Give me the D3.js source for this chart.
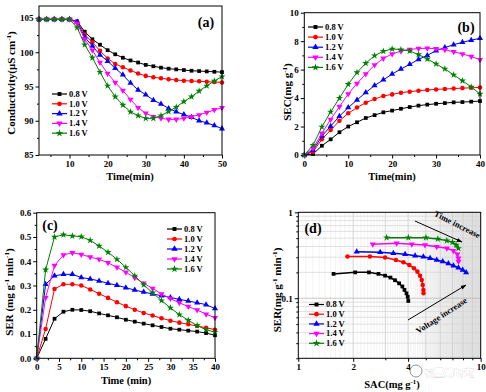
<!DOCTYPE html>
<html><head><meta charset="utf-8">
<script src="https://cdn.jsdelivr.net/npm/d3@7"></script>
<style>
body{margin:0;background:#fff}
svg{display:block}
text{font-family:"Liberation Serif","Times New Roman",serif;font-weight:bold;}
</style>
</head><body>
<svg id="chart" width="486" height="392"></svg>
<script>
// ---------- data ----------
const seriesNames = ["0.8 V","1.0 V","1.2 V","1.4 V","1.6 V"];
const seriesColors = ["#000000","#ff0000","#0000ff","#ff00ff","#008000"];

// (a) conductivity vs time
const timeA = [2,4,6,8,10,12,14,16,18,20,22,24,26,28,30,32,34,36,38,40,42,44,46,48,50];
const condV08 = [104.8,104.8,104.8,104.8,104.8,104.5,103.0,101.9,101.1,100.3,99.7,99.2,98.8,98.5,98.15,97.95,97.75,97.6,97.5,97.4,97.3,97.25,97.2,97.15,97.1];
const condV10 = [104.8,104.8,104.8,104.8,104.8,104.5,102.6,101.45,100.2,99.1,98.3,97.8,97.35,96.9,96.55,96.35,96.2,96.05,95.95,95.85,95.8,95.75,95.7,95.65,95.6];
const condV12 = [104.8,104.8,104.8,104.8,104.8,104.4,102.2,100.9,99.6,98.7,97.65,96.7,95.5,94.5,93.8,93.0,92.45,91.8,91.3,90.9,90.5,90.0,89.7,89.3,88.85];
const condV14 = [104.8,104.8,104.8,104.8,104.8,104.2,101.9,100.3,98.5,96.9,95.6,94.4,93.1,91.9,91.1,90.6,90.35,90.2,90.2,90.35,90.6,90.85,91.2,91.6,91.9];
const condV16 = [104.8,104.8,104.8,104.8,104.8,103.6,101.1,99.2,97.1,95.1,93.5,92.3,91.3,90.75,90.35,90.35,90.75,91.35,92.0,92.8,93.5,94.35,95.1,95.8,96.45];

// (b) SEC vs time, (c) SER vs time
const timeBC = [0,2,4,6,8,10,12,14,16,18,20,22,24,26,28,30,32,34,36,38,40];
const secV08 = [0,0.07,0.65,1.1,1.6,2.0,2.3,2.6,2.8,3.0,3.12,3.25,3.37,3.47,3.54,3.6,3.65,3.7,3.72,3.75,3.79];
const secV10 = [0,0.23,1.1,1.75,2.4,2.93,3.33,3.68,3.93,4.15,4.26,4.38,4.45,4.52,4.57,4.61,4.64,4.67,4.7,4.72,4.75];
const secV12 = [0,0.33,1.33,2.02,2.73,3.33,3.87,4.39,4.88,5.28,5.69,6.04,6.37,6.72,7.0,7.33,7.55,7.75,7.92,8.07,8.2];
const secV14 = [0,0.47,1.52,2.5,3.4,4.29,5.03,5.69,6.32,6.79,7.1,7.3,7.42,7.48,7.5,7.47,7.4,7.25,7.1,6.92,6.7];
const secV16 = [0,0.69,1.98,3.03,4.0,4.97,5.8,6.45,6.98,7.29,7.45,7.41,7.31,7.06,6.75,6.4,6.05,5.63,5.22,4.78,4.29];

const serV08 = [0,0.08,0.163,0.192,0.2,0.199,0.194,0.185,0.177,0.169,0.159,0.151,0.143,0.136,0.129,0.122,0.118,0.114,0.11,0.104,0.095];
const serV10 = [0,0.121,0.286,0.305,0.305,0.3,0.284,0.266,0.249,0.231,0.215,0.2,0.187,0.176,0.165,0.155,0.147,0.14,0.133,0.126,0.118];
const serV12 = [0,0.305,0.34,0.346,0.346,0.333,0.327,0.319,0.309,0.301,0.291,0.281,0.273,0.265,0.258,0.251,0.243,0.236,0.229,0.221,0.205];
const serV14 = [0,0.25,0.382,0.426,0.435,0.428,0.417,0.408,0.394,0.375,0.355,0.332,0.309,0.288,0.265,0.246,0.229,0.213,0.199,0.182,0.167];
const serV16 = [0,0.365,0.5,0.509,0.504,0.501,0.486,0.463,0.437,0.408,0.375,0.34,0.303,0.27,0.238,0.208,0.18,0.157,0.135,0.118,0.108];

// (d) SER vs SAC (log-log)
const sacV08 = [1.56,2.05,2.44,2.75,2.99,3.2,3.39,3.57,3.72,3.82,3.92,3.98,4.01];
const serdV08 = [0.192,0.2,0.2,0.192,0.183,0.174,0.162,0.149,0.137,0.125,0.114,0.104,0.093];
const sacV10 = [1.86,2.47,2.99,3.43,3.77,4.06,4.31,4.5,4.65,4.75,4.81,4.85,4.86];
const serdV10 = [0.305,0.305,0.297,0.279,0.262,0.244,0.223,0.204,0.183,0.163,0.143,0.125,0.114];
const sacV12 = [2.09,2.81,3.32,3.85,4.37,4.85,5.28,5.74,6.19,6.65,7.09,7.55,7.97,8.32];
const serdV12 = [0.348,0.343,0.333,0.325,0.313,0.303,0.292,0.279,0.267,0.253,0.239,0.227,0.213,0.199];
const sacV14 = [2.56,3.46,4.19,4.95,5.74,6.52,7.08,7.45,7.55,7.56];
const serdV14 = [0.425,0.436,0.425,0.417,0.398,0.381,0.358,0.325,0.292,0.267];
const sacV16 = [3.05,4.01,5.01,5.82,6.52,7.0,7.33,7.55];
const serdV16 = [0.507,0.507,0.507,0.49,0.468,0.448,0.417,0.381];

// tick values
const ticksAx = [10,20,30,40,50], minorAx = [5,15,25,35,45];
const ticksAy = [85,90,95,100,105], minorAy = [87.5,92.5,97.5,102.5];
const ticksBx = [0,10,20,30,40], minorBx = [5,15,25,35];
const ticksBy = [0,2,4,6,8,10], minorBy = [1,3,5,7,9];
const ticksCx = [0,5,10,15,20,25,30,35,40], minorCx = [2.5,7.5,12.5,17.5,22.5,27.5,32.5,37.5];
const ticksCy = [0,0.1,0.2,0.3,0.4,0.5,0.6], minorCy = [0.05,0.15,0.25,0.35,0.45,0.55];
const ticksDxLabels = [1,2,4,10];
const ticksDyLabels = [0.1,1];

// ---------- drawing ----------
const svg = d3.select("#chart");
const symbols = [d3.symbolSquare, d3.symbolCircle, d3.symbolTriangle, d3.symbolTriangle, d3.symbolStar];
const symSizes = [14, 16, 16, 16, 16];
const symRot = [0,0,0,180,0];

function marker(g, i, cx, cy, scale){
  const s = scale || 1;
  g.append("path")
    .attr("d", d3.symbol().type(symbols[i]).size(symSizes[i]*s)())
    .attr("transform", `translate(${cx},${cy}) rotate(${symRot[i]})`)
    .attr("fill", seriesColors[i]);
}

function richText(g, parts, x, y, size, rotate){
  const t = g.append("text").attr("font-size", size).attr("text-anchor","middle")
    .attr("transform", rotate ? `translate(${x},${y}) rotate(-90)` : `translate(${x},${y})`);
  parts.forEach(p => {
    const ts = t.append("tspan").text(p[0]);
    if (p[1] === 1) ts.attr("font-size", size*0.65).attr("dy", -size*0.4);
    else if (p[1] === -1) ts.attr("dy", size*0.4);
  });
  return t;
}

function styleAxis(sel, fs){
  sel.select(".domain").remove();
  sel.selectAll("text").attr("font-size", fs || 9).attr("font-weight","bold")
     .attr("font-family",'"Liberation Serif","Times New Roman",serif').attr("fill","#000");
  sel.selectAll("line").attr("stroke","#000");
}

function panel(cfg){
  const g = svg.append("g");
  const x = (cfg.log ? d3.scaleLog() : d3.scaleLinear()).domain(cfg.xDomain).range([cfg.left, cfg.right]);
  const y = (cfg.log ? d3.scaleLog() : d3.scaleLinear()).domain(cfg.yDomain).range([cfg.bottom, cfg.top]);
  if (cfg.grid) cfg.grid(g, x, y);
  // axes
  g.append("g").attr("transform",`translate(0,${cfg.bottom})`)
    .call(d3.axisBottom(x).tickValues(cfg.xTicks).tickSize(3.5).tickSizeOuter(0).tickPadding(2).tickFormat(cfg.xFmt || d3.format("d")))
    .call(s=>styleAxis(s));
  g.append("g").attr("transform",`translate(0,${cfg.bottom})`)
    .call(d3.axisBottom(x).tickValues(cfg.xMinor).tickSize(2).tickSizeOuter(0).tickFormat(""))
    .call(s=>styleAxis(s));
  g.append("g").attr("transform",`translate(${cfg.left},0)`)
    .call(d3.axisLeft(y).tickValues(cfg.yTicks).tickSize(3.5).tickSizeOuter(0).tickPadding(2).tickFormat(cfg.yFmt || d3.format("d")))
    .call(s=>styleAxis(s));
  g.append("g").attr("transform",`translate(${cfg.left},0)`)
    .call(d3.axisLeft(y).tickValues(cfg.yMinor).tickSize(2).tickSizeOuter(0).tickFormat(""))
    .call(s=>styleAxis(s));
  // series
  cfg.series.forEach((s, i) => {
    const pts = s.x.map((v, k) => [x(v), y(s.y[k])]);
    g.append("path").attr("d", d3.line()(pts)).attr("fill","none")
      .attr("stroke", seriesColors[i]).attr("stroke-width", cfg.lw || 1);
    pts.forEach(p => marker(g, i, p[0], p[1]));
  });
  // frame
  g.append("rect").attr("x",cfg.left).attr("y",cfg.top)
    .attr("width",cfg.right-cfg.left).attr("height",cfg.bottom-cfg.top)
    .attr("fill","none").attr("stroke","#000").attr("stroke-width",1);
  // legend
  seriesNames.forEach((n, i) => {
    const ly = cfg.legend.y + i*cfg.legend.dy;
    const lx = cfg.legend.x;
    g.append("line").attr("x1",lx).attr("x2",lx+15).attr("y1",ly).attr("y2",ly)
      .attr("stroke",seriesColors[i]).attr("stroke-width",1.2);
    marker(g, i, lx+7.5, ly, 1.1);
    g.append("text").attr("x",lx+17).attr("y",ly).attr("dy","0.33em").attr("font-size",8.5).text(n);
  });
  // panel label
  g.append("text").attr("x",cfg.label.x).attr("y",cfg.label.y).attr("text-anchor","middle")
    .attr("dy","0.35em").attr("font-size",14).text(cfg.label.text);
  // titles
  richText(g, cfg.xTitle.parts, cfg.xTitle.x, cfg.xTitle.y, 10.5, false);
  richText(g, cfg.yTitle.parts, cfg.yTitle.x, cfg.yTitle.y, 11, true);
  return {g, x, y};
}

// (a)
panel({
  left:39, right:222, top:6, bottom:155,
  xDomain:[2,50], yDomain:[85,106.75],
  xTicks:ticksAx, xMinor:minorAx, yTicks:ticksAy, yMinor:minorAy,
  series:[condV08,condV10,condV12,condV14,condV16].map(v=>({x:timeA,y:v})),
  legend:{x:52,y:94,dy:9.8},
  label:{text:"(a)",x:206,y:22},
  xTitle:{parts:[["Time(min)",0]],x:130,y:179.5},
  yTitle:{parts:[["Conductivity(μS cm",0],["-1",1],[")",-1]],x:15,y:83}
});

// (b)
panel({
  left:304.3, right:480, top:12.7, bottom:155,
  xDomain:[0,40], yDomain:[0,10],
  xTicks:ticksBx, xMinor:minorBx, yTicks:ticksBy, yMinor:minorBy,
  series:[secV08,secV10,secV12,secV14,secV16].map(v=>({x:timeBC,y:v})),
  legend:{x:308,y:27,dy:10.1},
  label:{text:"(b)",x:466,y:27},
  xTitle:{parts:[["Time(min)",0]],x:392,y:179.5},
  yTitle:{parts:[["SEC(mg g",0],["-1",1],[")",-1]],x:291,y:92}
});

// (c)
panel({
  left:36.7, right:215, top:212.7, bottom:358.3,
  xDomain:[0,40], yDomain:[0,0.6],
  xTicks:ticksCx, xMinor:minorCx, yTicks:ticksCy, yMinor:minorCy, yFmt:d3.format(".1f"),
  series:[serV08,serV10,serV12,serV14,serV16].map(v=>({x:timeBC,y:v})),
  legend:{x:167,y:229,dy:10},
  label:{text:"(c)",x:50,y:225},
  xTitle:{parts:[["Time (min)",0]],x:126,y:383.5},
  yTitle:{parts:[["SER (mg g",0],["-1",1],[" min",-1],["-1",1],[")",-1]],x:13,y:292}
});

// (d)
const pd = panel({
  log:true, lw:1.5,
  left:298.3, right:480.7, top:212.3, bottom:358.3,
  xDomain:[1,10], yDomain:[0.02,1],
  xTicks:ticksDxLabels, xMinor:[3,5,6,7,8,9],
  yTicks:ticksDyLabels, yMinor:[0.02,0.03,0.04,0.05,0.06,0.07,0.08,0.09,0.2,0.3,0.4,0.5,0.6,0.7,0.8,0.9],
  xFmt:d3.format("d"), yFmt:d=>d===1?"1":"0.1",
  grid:(g,x,y)=>{
    const grad = svg.append("defs").append("linearGradient").attr("id","shade")
      .attr("x1","0").attr("x2","1").attr("y1","0").attr("y2","0");
    grad.append("stop").attr("offset","0").attr("stop-color","#ffffff");
    grad.append("stop").attr("offset","1").attr("stop-color","#d4d4d4");
    g.append("rect").attr("x",x(4.5)).attr("y",212.3).attr("width",480.7-x(4.5)).attr("height",146)
      .attr("fill","url(#shade)");
    const fine = d3.range(11,100).map(v=>v/10);
    g.selectAll(null).data(fine).enter().append("line")
      .attr("x1",d=>x(d)).attr("x2",d=>x(d)).attr("y1",212.3).attr("y2",358.3)
      .attr("stroke","#e6e6e6").attr("stroke-width",0.5);
    const majX = d3.range(2,10);
    g.selectAll(null).data(majX).enter().append("line")
      .attr("x1",d=>x(d)).attr("x2",d=>x(d)).attr("y1",212.3).attr("y2",358.3)
      .attr("stroke","#c8c8c8").attr("stroke-width",0.7);
    const yl = [0.03,0.04,0.05,0.06,0.07,0.08,0.09,0.1,0.2,0.3,0.4,0.5,0.6,0.7,0.8,0.9];
    g.selectAll(null).data(yl).enter().append("line")
      .attr("x1",298.3).attr("x2",480.7).attr("y1",d=>y(d)).attr("y2",d=>y(d))
      .attr("stroke",d=>d===0.1?"#b0b0b0":"#d4d4d4").attr("stroke-width",0.7);
  },
  series:[[sacV08,serdV08],[sacV10,serdV10],[sacV12,serdV12],[sacV14,serdV14],[sacV16,serdV16]].map(v=>({x:v[0],y:v[1]})),
  legend:{x:309,y:304.5,dy:9.7},
  label:{text:"(d)",x:313,y:228},
  xTitle:{parts:[["SAC(mg g",0],["-1",1],[")",-1]],x:392,y:388},
  yTitle:{parts:[["SER(mg g",0],["-1",1],[" min",-1],["-1",1],[")",-1]],x:281,y:290}
});

// arrows & annotations in (d)
const defs = svg.append("defs");
defs.append("marker").attr("id","ah").attr("viewBox","0 0 10 10").attr("refX",9).attr("refY",5)
  .attr("markerWidth",6).attr("markerHeight",6).attr("orient","auto")
  .append("path").attr("d","M0,1.5 L10,5 L0,8.5 Z").attr("fill","#000");
svg.append("line").attr("x1",415).attr("y1",221).attr("x2",462).attr("y2",242)
  .attr("stroke","#000").attr("stroke-width",1).attr("marker-end","url(#ah)");
svg.append("line").attr("x1",408).attr("y1",320).attr("x2",466).attr("y2",285)
  .attr("stroke","#000").attr("stroke-width",1).attr("marker-end","url(#ah)");
svg.append("text").attr("transform","translate(456,227) rotate(27)").attr("text-anchor","middle")
  .attr("font-size",8.5).text("Time increase");
svg.append("text").attr("transform","translate(443,318) rotate(-33)").attr("text-anchor","middle")
  .attr("font-size",8.5).text("Voltage increase");

// watermark
const wm = svg.append("g").attr("opacity",0.8);
wm.append("circle").attr("cx",416).attr("cy",371).attr("r",6).attr("fill","#fff").attr("stroke","#777").attr("stroke-width",1);
wm.append("text").attr("x",424).attr("y",376).attr("font-size",9.5).attr("font-weight","normal")
  .attr("font-family",'"Noto Sans CJK SC",sans-serif').attr("fill","#555")
  .attr("stroke","#fff").attr("stroke-width",0.4).text("石墨烯研究");
</script>
</body></html>
